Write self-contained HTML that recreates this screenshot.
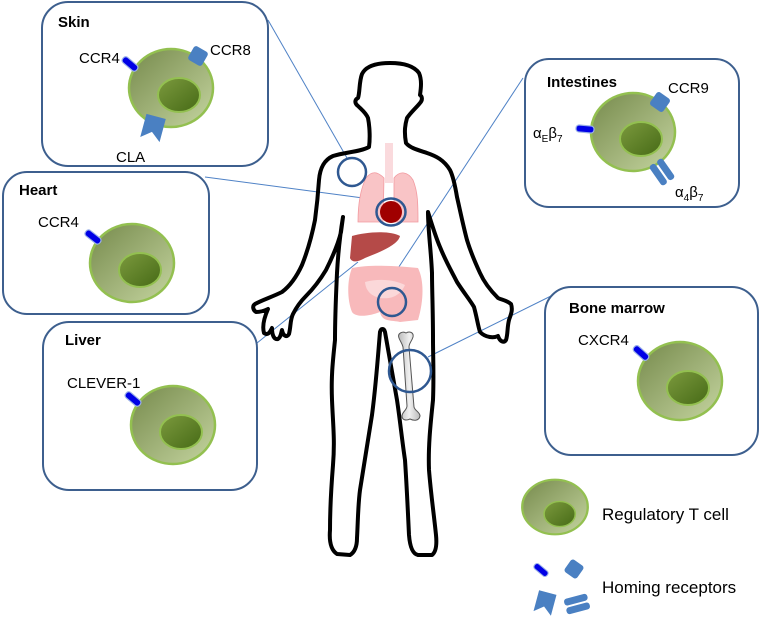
<!DOCTYPE html>
<html><head><meta charset="utf-8"><style>
html,body{margin:0;padding:0;background:#fff}
svg{display:block}
text{font-family:"Liberation Sans",sans-serif;fill:#000}
.t{font-size:15px;font-weight:bold}
.l{font-size:15px}
</style></head><body>
<svg width="761" height="618" viewBox="0 0 761 618" xmlns="http://www.w3.org/2000/svg">
<defs>
<linearGradient id="cg" x1="0" y1="0" x2="1" y2="1">
<stop offset="0" stop-color="#768a4c"/><stop offset="1" stop-color="#c5d5a0"/></linearGradient>
<linearGradient id="ng" x1="0" y1="0" x2="1" y2="1">
<stop offset="0" stop-color="#7c9a3e"/><stop offset="1" stop-color="#466a16"/></linearGradient>
<linearGradient id="bg" x1="0" y1="0" x2="1" y2="0">
<stop offset="0" stop-color="#bbb"/><stop offset="0.5" stop-color="#f0f0f0"/><stop offset="1" stop-color="#bbb"/></linearGradient>
<g id="cell">
<ellipse cx="0" cy="0" rx="42" ry="39" fill="url(#cg)" stroke="#93c050" stroke-width="2.5"/>
<ellipse cx="8" cy="7" rx="21" ry="17" fill="url(#ng)" stroke="#93c050" stroke-width="2"/>
</g>
<g id="rb"><rect x="-9" y="-3.5" width="18" height="7" rx="3" fill="#0000e6" stroke="#9ab0e8" stroke-width="1.2"/></g>
<g id="sq"><rect x="-8" y="-8" width="16" height="16" rx="3" fill="#4a80c2"/></g>
<g id="chev"><path d="M-10,-12 L10,-12 L10,12 L0,4 L-10,12 Z" fill="#4a80c2"/></g>
<g id="bars"><rect x="-12" y="-8" width="24" height="7" rx="3" fill="#4a80c2"/><rect x="-12" y="1" width="24" height="7" rx="3" fill="#4a80c2"/></g>
</defs>

<!-- connector lines -->
<g stroke="#4f82c6" stroke-width="1" fill="none">
<line x1="268" y1="20" x2="347" y2="158"/>
<line x1="205" y1="177" x2="378" y2="200"/>
<line x1="257" y1="343" x2="358" y2="262"/>
<line x1="385" y1="288" x2="523" y2="78"/>
<line x1="428" y1="357" x2="553" y2="295"/>
</g>

<!-- body -->
<path d="M390,63 C376,63 366,66 362,74 C359,82 360,92 358,98 C354,100 355,104 358,106 C362,110 366,113 368,118 C370,128 370,140 369,147 C360,152 345,152 333,156 C324,160 320,168 319,180 C318,195 317,205 315,220 C312,235 308,250 302,265 C296,278 290,286 282,292 C272,297 262,300 255,304 C252,306 253,310 256,312 C262,312 266,310 268,309 C264,318 262,326 264,333 C268,336 270,332 272,328 C272,335 274,340 278,339 C281,337 281,333 282,330 C283,336 287,338 289,334 C291,326 290,320 293,314 C296,308 300,302 306,296 C314,288 320,280 326,270 C332,258 338,245 341,232 L343,217 C340,235 338,255 337,273 C336,295 335,315 335,340 C333,360 331,375 332,400 C333,425 335,440 333,465 C331,490 330,510 330,530 C329,542 331,550 337,554 L350,555 C355,552 357,546 357,538 C358,520 358,505 360,490 C364,465 368,440 372,415 C376,385 378,355 380,332 C381,328 384,328 385,332 C388,350 392,372 397,400 C400,420 402,440 405,460 C407,490 408,515 409,535 C410,548 413,554 418,555 L432,555 C436,552 437,545 436,535 C434,515 431,495 429,470 C428,445 431,420 433,400 C434,375 433,355 433,340 C433,310 432,290 432,273 C431,250 428,230 428,212 C432,225 436,238 440,247 C446,262 452,272 457,282 C464,293 470,300 474,307 C477,318 478,326 480,332 C486,338 494,338 498,336 C500,342 504,343 506,340 C508,334 507,328 509,320 C511,314 513,310 511,304 C506,300 502,300 498,298 C490,290 484,282 480,273 C474,260 470,250 467,240 C463,225 460,210 457,197 C455,185 453,176 450,170 C444,160 436,156 427,153 C418,150 410,148 406,143 C404,132 405,125 407,118 C411,112 416,108 420,103 C423,100 422,96 420,95 C421,88 422,80 419,73 C414,66 403,63 390,63 Z" fill="none" stroke="#000" stroke-width="4" stroke-linejoin="round"/>

<!-- organs -->
<rect x="385" y="143" width="8" height="40" fill="#fadadd"/>
<path d="M384,178 C378,172 372,170 366,178 C360,190 358,205 358,222 L383,222 Z" fill="#f9c4c6" stroke="#f29aa0" stroke-width="0.8"/>
<path d="M394,178 C400,170 408,172 413,180 C418,192 418,205 418,222 L394,222 Z" fill="#f9c4c6" stroke="#f29aa0" stroke-width="0.8"/>
<circle cx="391" cy="212" r="11" fill="#a00000"/>
<ellipse cx="391" cy="212" rx="14.5" ry="13.5" fill="none" stroke="#2f5891" stroke-width="2.5"/>
<path d="M352,236 C365,232 390,230 400,236 C398,245 380,252 365,258 C358,262 352,263 350,258 Z" fill="#b54a48"/>
<path d="M352,268 C370,264 400,266 418,268 C424,280 424,300 418,320 L400,322 C390,320 382,322 380,312 C370,316 356,318 352,312 C347,300 347,280 352,268 Z" fill="#f8b9bb"/>
<path d="M365,282 C380,278 395,280 405,285 C402,292 395,300 380,298 C372,296 366,292 365,282 Z" fill="#fbd8d9"/>
<circle cx="352" cy="172" r="14" fill="none" stroke="#2f5891" stroke-width="2.5"/>
<circle cx="392" cy="302" r="14" fill="none" stroke="#2f5891" stroke-width="2.5"/>
<!-- bone -->
<path d="M399,338 C397,333 403,331 406,333 C409,331 414,332 413,337 C412,341 409,343 409,347 L414,407 C415,411 420,412 420,416 C419,421 414,421 410,419 C406,421 402,420 402,416 C402,412 407,410 407,406 L403,347 C402,343 400,341 399,338 Z" fill="url(#bg)" stroke="#555" stroke-width="1"/>
<circle cx="410" cy="371" r="21" fill="none" stroke="#2f5891" stroke-width="2.5"/>

<!-- boxes -->
<g fill="none" stroke="#3d5f8e" stroke-width="2">
<rect x="42" y="2" width="226" height="164" rx="26"/>
<rect x="3" y="172" width="206" height="142" rx="24"/>
<rect x="43" y="322" width="214" height="168" rx="26"/>
<rect x="525" y="59" width="214" height="148" rx="24"/>
<rect x="545" y="287" width="213" height="168" rx="26"/>
</g>

<!-- Skin -->
<text class="t" x="58" y="27">Skin</text>
<text class="l" x="79" y="63">CCR4</text>
<text class="l" x="210" y="55">CCR8</text>
<text class="l" x="116" y="162">CLA</text>
<use href="#cell" x="171" y="88"/>
<use href="#rb" transform="translate(130,64) rotate(40)"/>
<use href="#sq" transform="translate(198,56) rotate(30)"/>
<use href="#chev" transform="translate(153,128) rotate(15)"/>

<!-- Heart -->
<text class="t" x="19" y="195">Heart</text>
<text class="l" x="38" y="227">CCR4</text>
<use href="#cell" x="132" y="263"/>
<use href="#rb" transform="translate(93,237) rotate(38)"/>

<!-- Liver -->
<text class="t" x="65" y="345">Liver</text>
<text class="l" x="67" y="388">CLEVER-1</text>
<use href="#cell" x="173" y="425"/>
<use href="#rb" transform="translate(133,399) rotate(40)"/>

<!-- Intestines -->
<text class="t" x="547" y="87">Intestines</text>
<text class="l" x="668" y="93">CCR9</text>
<text class="l" x="533" y="138">α<tspan font-size="10" dy="4">E</tspan><tspan dy="-4">β</tspan><tspan font-size="10" dy="4">7</tspan></text>
<text class="l" x="675" y="197">α<tspan font-size="10" dy="4">4</tspan><tspan dy="-4">β</tspan><tspan font-size="10" dy="4">7</tspan></text>
<use href="#cell" x="633" y="132"/>
<use href="#rb" transform="translate(585,129) rotate(5)"/>
<use href="#sq" transform="translate(660,102) rotate(35)"/>
<use href="#bars" transform="translate(662,172) rotate(55)"/>

<!-- Bone marrow -->
<text class="t" x="569" y="313">Bone marrow</text>
<text class="l" x="578" y="345">CXCR4</text>
<use href="#cell" x="680" y="381"/>
<use href="#rb" transform="translate(641,353) rotate(42)"/>

<!-- Legend -->
<g transform="translate(555,507) scale(0.78,0.7)">
<ellipse cx="0" cy="0" rx="42" ry="39" fill="url(#cg)" stroke="#93c050" stroke-width="3"/>
<ellipse cx="6" cy="10" rx="20" ry="18" fill="url(#ng)" stroke="#93c050" stroke-width="2"/>
</g>
<text class="l" x="602" y="520" style="font-size:17px">Regulatory T cell</text>
<use href="#rb" transform="translate(541,570) rotate(40) scale(0.9)"/>
<use href="#sq" transform="translate(574,569) rotate(35) scale(0.95)"/>
<use href="#chev" transform="translate(545,603) rotate(15) scale(0.9)"/>
<use href="#bars" transform="translate(577,604) rotate(-15)"/>
<text class="l" x="602" y="593" style="font-size:17px">Homing receptors</text>
</svg>
</body></html>
